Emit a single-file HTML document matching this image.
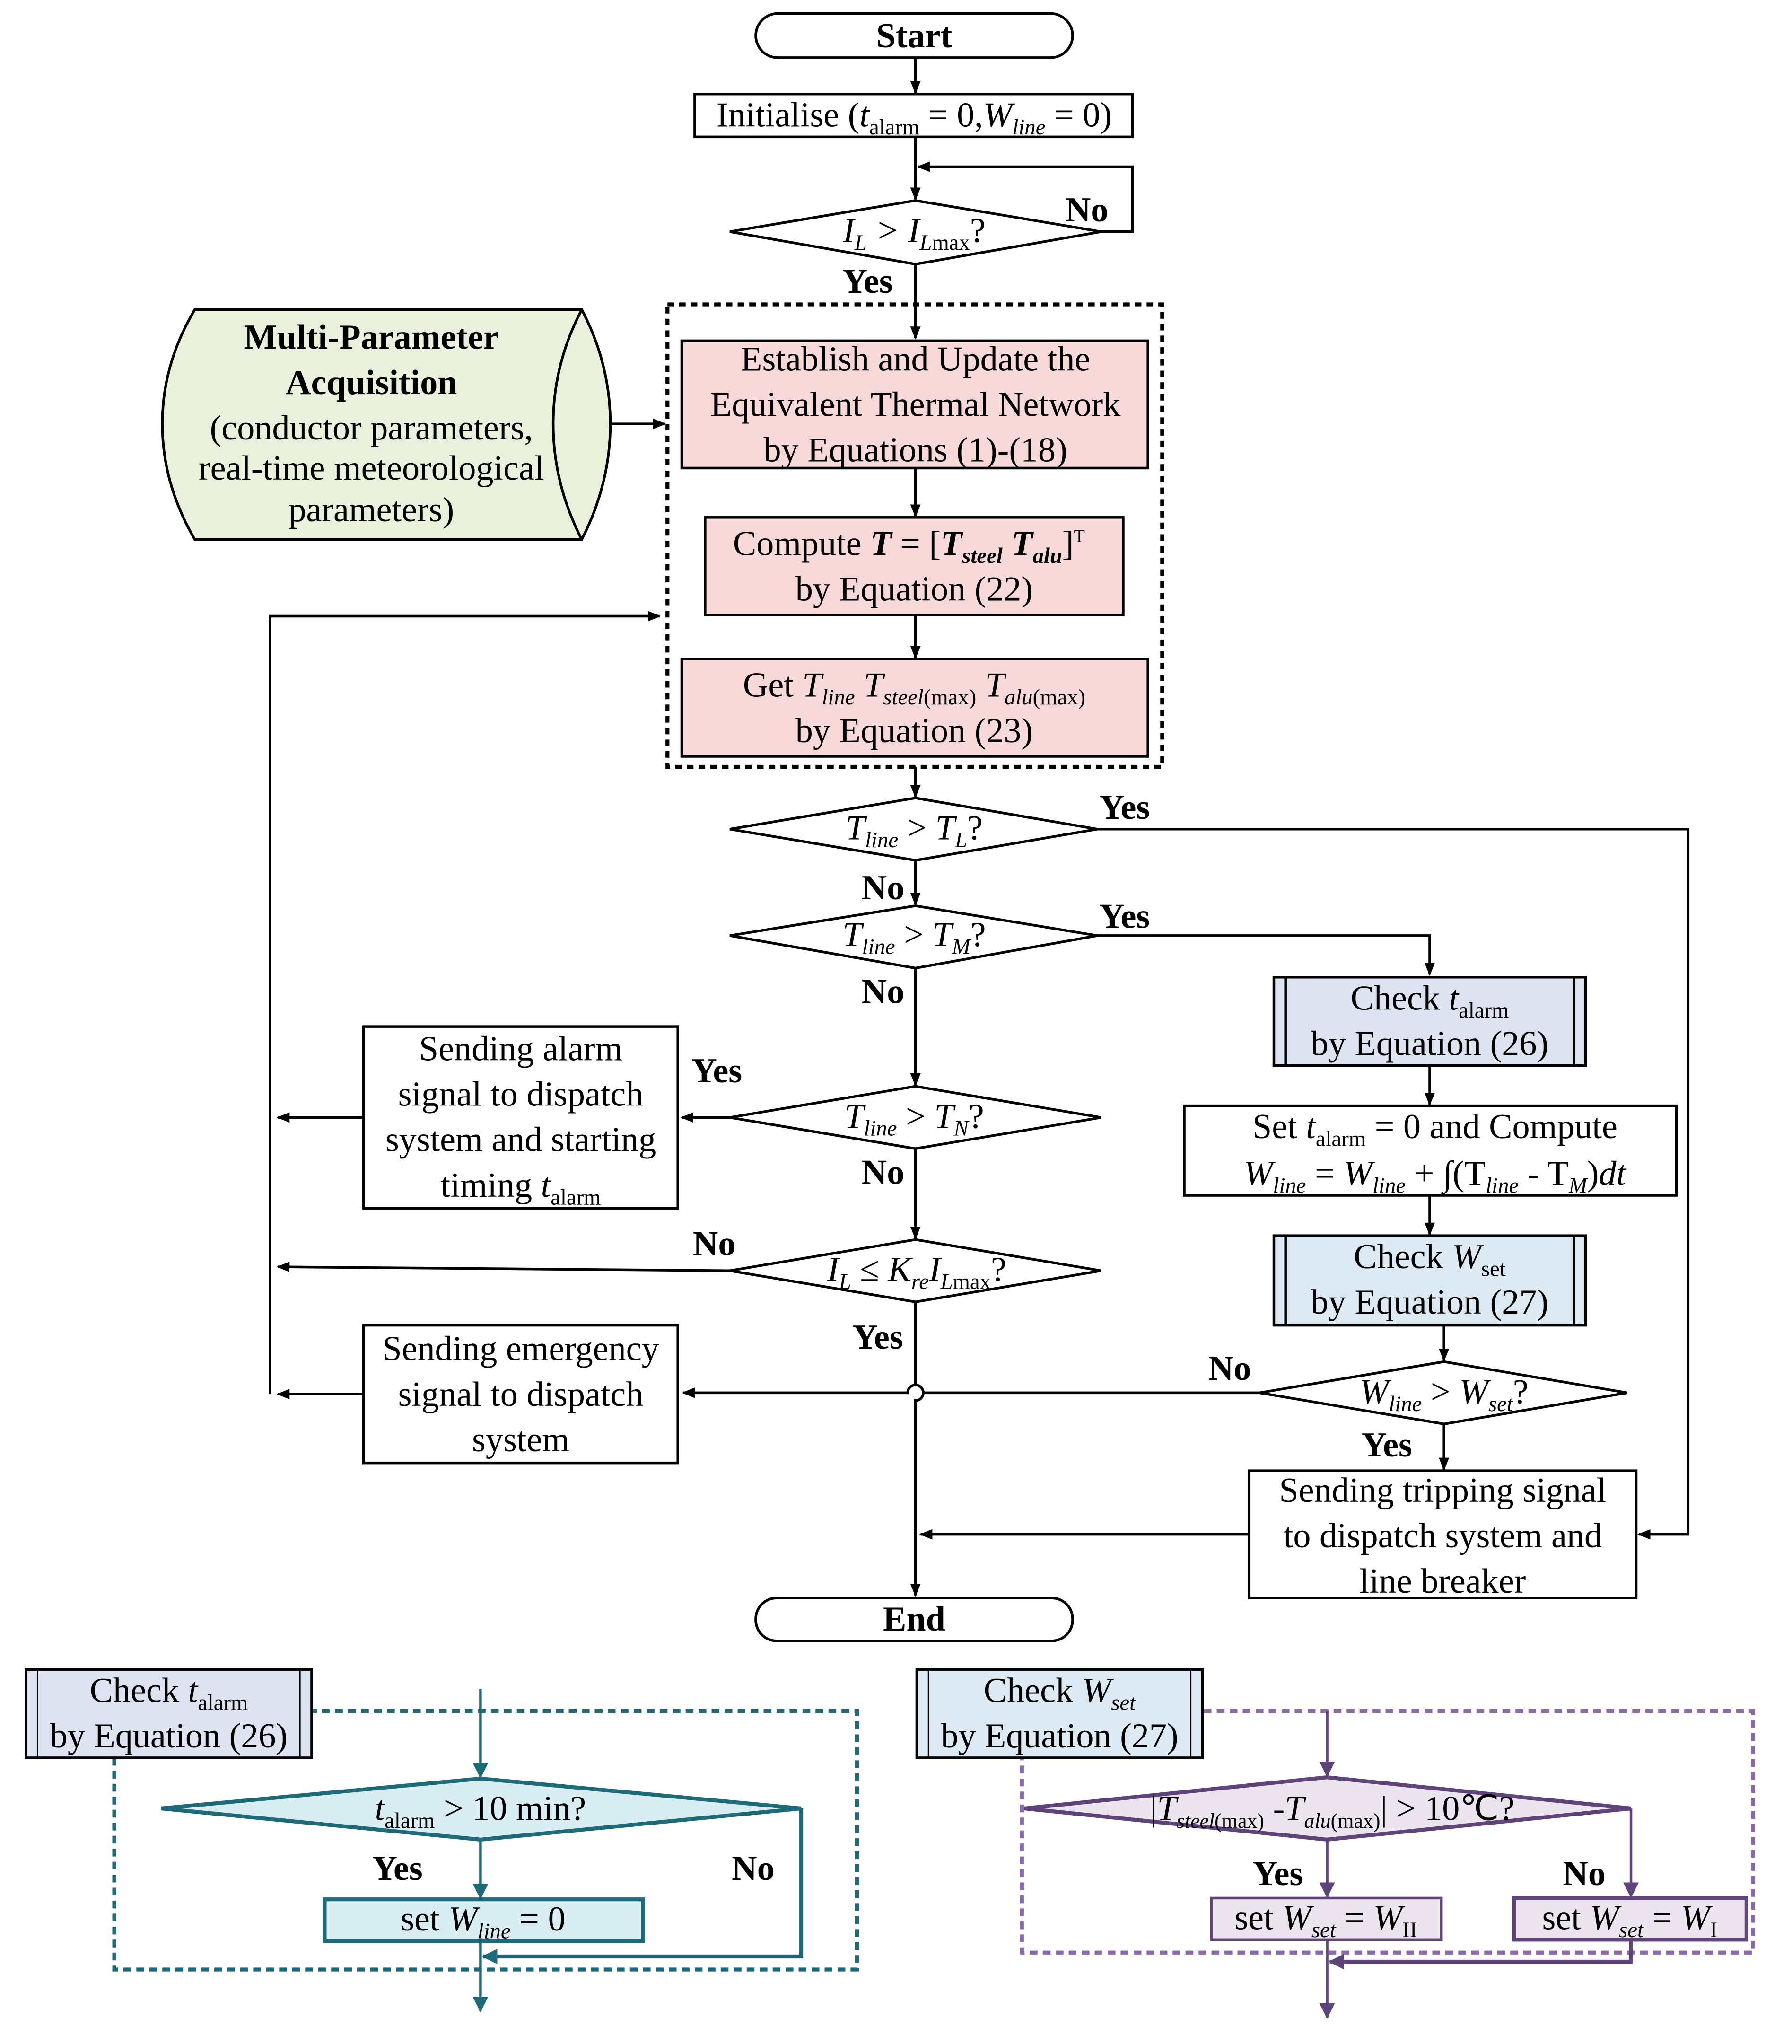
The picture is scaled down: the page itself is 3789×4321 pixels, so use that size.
<!DOCTYPE html>
<html><head><meta charset="utf-8"><style>
html,body{margin:0;padding:0;background:#fff;}
svg{display:block}
text{font-family:"Liberation Serif",serif;font-size:27px;fill:#000}
.b{font-weight:bold}
.i{font-style:italic}
</style></head><body>
<svg width="3789" height="4321" viewBox="0 0 1380 1573" xmlns="http://www.w3.org/2000/svg">
<defs>
<marker id="a" markerWidth="10" markerHeight="10" refX="9" refY="5" orient="auto" markerUnits="userSpaceOnUse"><path d="M0,1 L10,5 L0,9 Z" fill="#000"/></marker>
<marker id="at" markerWidth="12" markerHeight="14" refX="11" refY="7" orient="auto" markerUnits="userSpaceOnUse"><path d="M0,1 L12,7 L0,13 Z" fill="#1e6a78"/></marker>
<marker id="ap" markerWidth="12" markerHeight="14" refX="11" refY="7" orient="auto" markerUnits="userSpaceOnUse"><path d="M0,1 L12,7 L0,13 Z" fill="#5e4478"/></marker>
</defs>
<g stroke="#000" stroke-width="2" fill="none">
<!-- start -->
<rect x="582" y="10" width="244" height="34" rx="17" fill="#fff"/>
<line x1="705" y1="44" x2="705" y2="71" marker-end="url(#a)"/>
<rect x="535" y="72" width="337" height="33" fill="#fff"/>
<line x1="705" y1="105" x2="705" y2="153" marker-end="url(#a)"/>
<polygon points="562,178 705,154 848,178 705,203" fill="#fff"/>
<polyline points="848,178 872,178 872,128 707,128" marker-end="url(#a)"/>
<line x1="705" y1="203" x2="705" y2="260" marker-end="url(#a)"/>
<!-- dashed box -->
<rect x="514" y="234" width="381" height="356" stroke-dasharray="5,4" stroke-width="3"/>
<rect x="525" y="262" width="359" height="98" fill="#f7d9d9"/>
<rect x="543" y="398" width="322" height="75" fill="#f7d9d9"/>
<rect x="525" y="507" width="359" height="75" fill="#f7d9d9"/>
<line x1="705" y1="360" x2="705" y2="397" marker-end="url(#a)"/>
<line x1="705" y1="473" x2="705" y2="506" marker-end="url(#a)"/>
<line x1="705" y1="590" x2="705" y2="613" marker-end="url(#a)"/>
<!-- cylinder -->
<path d="M150,238 L448,238 Q470,280 470,326 Q470,372 448,415 L150,415 Q125,372 125,326 Q125,280 150,238 Z" fill="#e9f0dc"/>
<path d="M448,238 Q426,280 426,326 Q426,372 448,415"/>
<line x1="470" y1="326" x2="512" y2="326" marker-end="url(#a)"/>
<!-- diamonds -->
<polygon points="562,638 705,614 845,638 705,662" fill="#fff"/>
<polyline points="845,638 1300,638 1300,1181 1262,1181" marker-end="url(#a)"/>
<line x1="705" y1="662" x2="705" y2="696" marker-end="url(#a)"/>
<polygon points="562,720 705,697 845,720 705,745" fill="#fff"/>
<polyline points="845,720 1101,720 1101,750" marker-end="url(#a)"/>
<line x1="705" y1="745" x2="705" y2="835" marker-end="url(#a)"/>
<rect x="981" y="752" width="240" height="68" fill="#dde3f0"/>
<line x1="990" y1="752" x2="990" y2="820"/><line x1="1212" y1="752" x2="1212" y2="820"/>
<line x1="1101" y1="820" x2="1101" y2="850" marker-end="url(#a)"/>
<rect x="912" y="851" width="379" height="69" fill="#fff"/>
<line x1="1101" y1="920" x2="1101" y2="950" marker-end="url(#a)"/>
<rect x="981" y="951" width="240" height="69" fill="#dde9f3"/>
<line x1="990" y1="951" x2="990" y2="1020"/><line x1="1212" y1="951" x2="1212" y2="1020"/>
<line x1="1112" y1="1020" x2="1112" y2="1047" marker-end="url(#a)"/>
<polygon points="970,1072 1112,1048 1253,1072 1112,1096" fill="#fff"/>
<line x1="1112" y1="1096" x2="1112" y2="1131" marker-end="url(#a)"/>
<rect x="962" y="1132" width="298" height="98" fill="#fff"/>
<line x1="962" y1="1181" x2="709" y2="1181" marker-end="url(#a)"/>
<polygon points="562,860 705,836 848,860 705,884" fill="#fff"/>
<line x1="562" y1="860" x2="525" y2="860" marker-end="url(#a)"/>
<line x1="705" y1="884" x2="705" y2="953" marker-end="url(#a)"/>
<rect x="280" y="790" width="242" height="140" fill="#fff"/>
<line x1="280" y1="860" x2="214" y2="860" marker-end="url(#a)"/>
<polyline points="208,1073 208,474 508,474" marker-end="url(#a)"/>
<polygon points="562,978 705,954 848,978 705,1002" fill="#fff"/>
<line x1="562" y1="978" x2="214" y2="975" marker-end="url(#a)"/>
<path d="M705,1002 L705,1066 A6,6 0 0 1 705,1078 L705,1228" marker-end="url(#a)"/>
<path d="M970,1072 L711,1072 A6,6 0 0 0 699,1072 L526,1072" marker-end="url(#a)"/>
<rect x="280" y="1020" width="242" height="106" fill="#fff"/>
<line x1="280" y1="1073" x2="214" y2="1073" marker-end="url(#a)"/>
<rect x="582" y="1230" width="244" height="33" rx="16" fill="#fff"/>
</g>
<!-- bottom left -->
<g stroke="#1e6a78" stroke-width="2" fill="none">
<rect x="88" y="1317" width="572" height="199" stroke-dasharray="6,4" stroke-width="3"/>
<line x1="370" y1="1300" x2="370" y2="1368" marker-end="url(#at)"/>
<polygon points="124,1392 370,1369 617,1392 370,1416" fill="#d9eef2" stroke-width="3"/>
<line x1="370" y1="1416" x2="370" y2="1461" marker-end="url(#at)"/>
<rect x="250" y="1462" width="245" height="32" fill="#d9eef2" stroke-width="3"/>
<polyline points="617,1392 617,1506 372,1506" marker-end="url(#at)" stroke-width="3"/>
<line x1="370" y1="1494" x2="370" y2="1548" marker-end="url(#at)"/>
</g>
<rect x="20" y="1285" width="220" height="68" fill="#dde3f0" stroke="#000" stroke-width="2"/>
<line x1="29" y1="1285" x2="29" y2="1353" stroke="#000"/><line x1="231" y1="1285" x2="231" y2="1353" stroke="#000"/>
<!-- bottom right -->
<g stroke="#5e4478" stroke-width="2" fill="none">
<rect x="787" y="1317" width="563" height="186" stroke="#8a6aa8" stroke-dasharray="6,4" stroke-width="3"/>
<line x1="1022" y1="1317" x2="1022" y2="1367" marker-end="url(#ap)"/>
<polygon points="789,1392 1022,1368 1256,1392 1022,1416" fill="#ece5ef" stroke-width="3"/>
<line x1="1022" y1="1416" x2="1022" y2="1460" marker-end="url(#ap)"/>
<polyline points="1256,1392 1256,1460" marker-end="url(#ap)"/>
<rect x="933" y="1461" width="177" height="32" fill="#ece5ef"/>
<rect x="1166" y="1461" width="179" height="32" fill="#ece5ef" stroke-width="3"/>
<polyline points="1256,1493 1256,1510 1024,1510" marker-end="url(#ap)" stroke-width="3"/>
<line x1="1022" y1="1493" x2="1022" y2="1553" marker-end="url(#ap)"/>
</g>
<rect x="706" y="1285" width="220" height="68" fill="#dde9f3" stroke="#000" stroke-width="2"/>
<line x1="715" y1="1285" x2="715" y2="1353" stroke="#000"/><line x1="917" y1="1285" x2="917" y2="1353" stroke="#000"/>

<!-- texts -->
<g text-anchor="middle">
<text x="704" y="36" class="b">Start</text>
<text x="704" y="97">Initialise (<tspan class="i">t</tspan><tspan font-size="17" dy="6">alarm</tspan><tspan dy="-6"> = 0,</tspan><tspan class="i">W</tspan><tspan class="i" font-size="17" dy="6">line</tspan><tspan dy="-6"> = 0)</tspan></text>
<text x="704" y="186" class="i">I<tspan font-size="17" dy="6">L</tspan><tspan dy="-6"> &gt; I</tspan><tspan font-size="17" dy="6">L</tspan><tspan font-size="17" font-style="normal">max</tspan><tspan dy="-6" font-style="normal">?</tspan></text>
<text x="837" y="170" class="b">No</text>
<text x="668" y="225" class="b">Yes</text>
<text x="705" y="285">Establish and Update the</text>
<text x="705" y="320">Equivalent Thermal Network</text>
<text x="705" y="355">by Equations (1)-(18)</text>
<text x="700" y="427">Compute <tspan class="i b">T</tspan> = [<tspan class="i b">T</tspan><tspan class="i b" font-size="17" dy="6">steel</tspan><tspan dy="-6"> </tspan><tspan class="i b">T</tspan><tspan class="i b" font-size="17" dy="6">alu</tspan><tspan dy="-6">]</tspan><tspan font-size="14" dy="-10">T</tspan></text>
<text x="704" y="462">by Equation (22)</text>
<text x="704" y="536">Get <tspan class="i">T</tspan><tspan class="i" font-size="17" dy="6">line</tspan><tspan dy="-6">  </tspan><tspan class="i">T</tspan><tspan class="i" font-size="17" dy="6">steel</tspan><tspan font-size="17">(max)</tspan><tspan dy="-6">  </tspan><tspan class="i">T</tspan><tspan class="i" font-size="17" dy="6">alu</tspan><tspan font-size="17">(max)</tspan></text>
<text x="704" y="571">by Equation (23)</text>
<text x="286" y="268" class="b">Multi-Parameter</text>
<text x="286" y="303" class="b">Acquisition</text>
<text x="286" y="338" font-size="23">(conductor parameters,</text>
<text x="286" y="369" font-size="23">real-time meteorological</text>
<text x="286" y="401" font-size="23">parameters)</text>
<text x="704" y="646" class="i">T<tspan font-size="17" dy="6">line</tspan><tspan dy="-6" font-style="normal"> &gt; </tspan>T<tspan font-size="17" dy="6">L</tspan><tspan dy="-6" font-style="normal">?</tspan></text>
<text x="866" y="630" class="b">Yes</text>
<text x="680" y="692" class="b">No</text>
<text x="704" y="728" class="i">T<tspan font-size="17" dy="6">line</tspan><tspan dy="-6" font-style="normal"> &gt; </tspan>T<tspan font-size="17" dy="6">M</tspan><tspan dy="-6" font-style="normal">?</tspan></text>
<text x="866" y="714" class="b">Yes</text>
<text x="680" y="772" class="b">No</text>
<text x="1101" y="777">Check  <tspan class="i">t</tspan><tspan font-size="17" dy="6">alarm</tspan></text>
<text x="1101" y="812">by Equation (26)</text>
<text x="1105" y="876">Set <tspan class="i">t</tspan><tspan font-size="17" dy="6">alarm</tspan><tspan dy="-6"> = 0 and Compute</tspan></text>
<text x="1105" y="912" class="i">W<tspan font-size="17" dy="6">line</tspan><tspan dy="-6" font-style="normal"> =  </tspan>W<tspan font-size="17" dy="6">line</tspan><tspan dy="-6" font-style="normal"> + ∫(T</tspan><tspan font-size="17" dy="6">line</tspan><tspan dy="-6" font-style="normal"> - T</tspan><tspan font-size="17" dy="6">M</tspan><tspan dy="-6" font-style="normal">)</tspan>dt</text>
<text x="1101" y="976">Check  <tspan class="i">W</tspan><tspan font-size="17" dy="6">set</tspan></text>
<text x="1101" y="1011">by Equation (27)</text>
<text x="1112" y="1080" class="i">W<tspan font-size="17" dy="6">line</tspan><tspan dy="-6" font-style="normal"> &gt; </tspan>W<tspan font-size="17" dy="6">set</tspan><tspan dy="-6" font-style="normal">?</tspan></text>
<text x="947" y="1062" class="b">No</text>
<text x="1068" y="1121" class="b">Yes</text>
<text x="1111" y="1156">Sending tripping signal</text>
<text x="1111" y="1191">to dispatch system and</text>
<text x="1111" y="1226">line breaker</text>
<text x="704" y="868" class="i">T<tspan font-size="17" dy="6">line</tspan><tspan dy="-6" font-style="normal"> &gt; </tspan>T<tspan font-size="17" dy="6">N</tspan><tspan dy="-6" font-style="normal">?</tspan></text>
<text x="552" y="833" class="b">Yes</text>
<text x="680" y="911" class="b">No</text>
<text x="401" y="816">Sending alarm</text>
<text x="401" y="851">signal to dispatch</text>
<text x="401" y="886">system and starting</text>
<text x="401" y="921">timing <tspan class="i">t</tspan><tspan font-size="17" dy="6">alarm</tspan></text>
<text x="706" y="986" class="i">I<tspan font-size="17" dy="6">L</tspan><tspan dy="-6" font-style="normal"> ≤ </tspan>K<tspan font-size="17" dy="6">re</tspan><tspan dy="-6">I</tspan><tspan font-size="17" dy="6">L</tspan><tspan font-size="17" font-style="normal">max</tspan><tspan dy="-6" font-style="normal">?</tspan></text>
<text x="550" y="966" class="b">No</text>
<text x="676" y="1038" class="b">Yes</text>
<text x="401" y="1047">Sending emergency</text>
<text x="401" y="1082">signal to dispatch</text>
<text x="401" y="1117">system</text>
<text x="704" y="1255" class="b">End</text>
<text x="130" y="1310">Check  <tspan class="i">t</tspan><tspan font-size="17" dy="6">alarm</tspan></text>
<text x="130" y="1345">by Equation (26)</text>
<text x="370" y="1401"><tspan class="i">t</tspan><tspan font-size="17" dy="6">alarm</tspan><tspan dy="-6"> &gt; 10 min?</tspan></text>
<text x="306" y="1447" class="b">Yes</text>
<text x="580" y="1447" class="b">No</text>
<text x="372" y="1486">set <tspan class="i">W</tspan><tspan class="i" font-size="17" dy="6">line</tspan><tspan dy="-6"> = 0</tspan></text>
<text x="816" y="1310">Check  <tspan class="i">W</tspan><tspan class="i" font-size="17" dy="6">set</tspan></text>
<text x="816" y="1345">by Equation (27)</text>
<text x="1026" y="1401">|<tspan class="i">T</tspan><tspan class="i" font-size="16" dy="6">steel</tspan><tspan font-size="16">(max)</tspan><tspan dy="-6"> -</tspan><tspan class="i">T</tspan><tspan class="i" font-size="16" dy="6">alu</tspan><tspan font-size="16">(max)</tspan><tspan dy="-6">| &gt; 10℃?</tspan></text>
<text x="984" y="1451" class="b">Yes</text>
<text x="1220" y="1451" class="b">No</text>
<text x="1021" y="1485">set <tspan class="i">W</tspan><tspan class="i" font-size="17" dy="6">set</tspan><tspan dy="-6"> = </tspan><tspan class="i">W</tspan><tspan font-size="17" dy="6">II</tspan></text>
<text x="1255" y="1485">set <tspan class="i">W</tspan><tspan class="i" font-size="17" dy="6">set</tspan><tspan dy="-6"> = </tspan><tspan class="i">W</tspan><tspan font-size="17" dy="6">I</tspan></text>
</g>
</svg>
</body></html>
